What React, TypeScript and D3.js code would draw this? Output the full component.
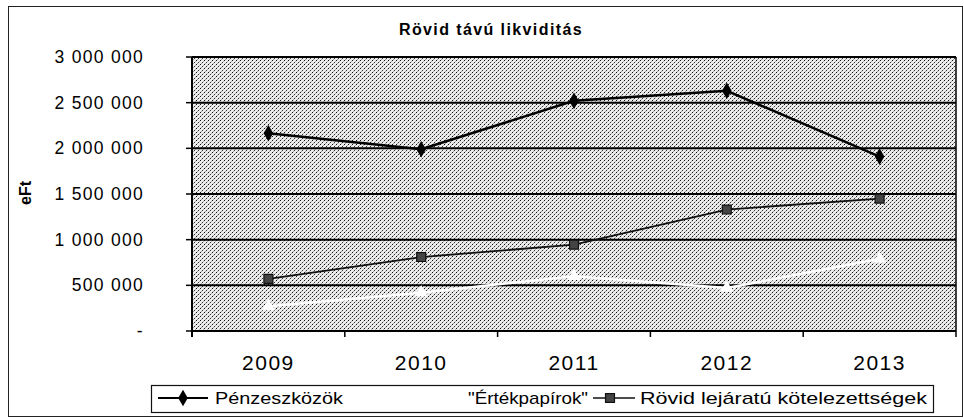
import React from 'react';
import * as d3 from 'd3';

const years = ['2009', '2010', '2011', '2012', '2013'];
const penzeszkozok = [2165000, 1990000, 2520000, 2630000, 1910000];
const ertekpapirok = [270000, 420000, 600000, 470000, 790000];
const rovidKotelezettseg = [570000, 810000, 945000, 1330000, 1450000];
const yTicks = [0, 500000, 1000000, 1500000, 2000000, 2500000, 3000000];

const W = 964;
const H = 418;
const plot = { left: 192, right: 956, top: 57, bottom: 331 };
const font = '"Liberation Sans", Arial, sans-serif';

const fmt = (v: number) => (v === 0 ? '-' : d3.format(',')(v).replace(/,/g, ' '));

export default function App() {
  const x = d3.scaleBand().domain(years).range([plot.left, plot.right]).padding(0);
  const y = d3.scaleLinear().domain([0, 3000000]).range([plot.bottom, plot.top]);
  const cx = (yr: string) => (x(yr) ?? 0) + x.bandwidth() / 2;

  const line = d3
    .line<number>()
    .x((_, i) => cx(years[i]))
    .y((d) => y(d));

  const diamond = d3.symbol().type(d3.symbolDiamond).size(80)()!;
  const square = d3.symbol().type(d3.symbolSquare).size(80)()!;
  const triangle = d3.symbol().type(d3.symbolTriangle).size(75)()!;

  const legendY = 398;

  return (
    <svg width={W} height={H} style={{ position: 'absolute', left: 0, top: 0, background: '#fff' }}>
      <defs>
        <pattern id="dots" width="4" height="4" patternUnits="userSpaceOnUse">
          <rect width="4" height="4" fill="#ececec" />
          <rect x="0" y="0" width="1" height="1" fill="#111" />
          <rect x="2" y="2" width="1" height="1" fill="#333" />
          <rect x="1" y="3" width="1" height="1" fill="#a0a0a0" />
          <rect x="3" y="1" width="1" height="1" fill="#b0b0b0" />
        </pattern>
      </defs>

      {/* outer frame */}
      <rect x={8.5} y={6.5} width={954} height={410} fill="none" stroke="#222" strokeWidth={1} />

      {/* title */}
      <text x={491} y={35} textAnchor="middle" fontFamily={font} fontWeight="bold" fontSize={16} letterSpacing={1.4}>
        Rövid távú likviditás
      </text>

      {/* plot area */}
      <rect
        x={plot.left}
        y={plot.top}
        width={plot.right - plot.left}
        height={plot.bottom - plot.top}
        fill="url(#dots)"
      />

      {/* grid lines */}
      {yTicks.map((t) => (
        <line key={t} x1={plot.left} x2={plot.right} y1={y(t)} y2={y(t)} stroke="#000" strokeWidth={2} />
      ))}
      <line x1={plot.right} x2={plot.right} y1={plot.top} y2={plot.bottom + 6} stroke="#000" strokeWidth={1.5} />
      <line x1={plot.left} x2={plot.left} y1={plot.top} y2={plot.bottom + 6} stroke="#000" strokeWidth={2} />

      {/* y ticks and labels */}
      {yTicks.map((t) => (
        <g key={'yl' + t}>
          <line x1={plot.left - 6} x2={plot.left} y1={y(t)} y2={y(t)} stroke="#000" strokeWidth={1.5} />
          <text x={144} y={y(t) + 6} textAnchor="end" fontFamily={font} fontSize={17.5} letterSpacing={1.3}>
            {fmt(t)}
          </text>
        </g>
      ))}

      {/* x ticks and labels */}
      {years.map((yr, i) => (
        <g key={yr}>
          {i > 0 && (
            <line x1={x(yr)} x2={x(yr)} y1={plot.bottom} y2={plot.bottom + 6} stroke="#000" strokeWidth={1.5} />
          )}
          <text x={cx(yr)} y={370} textAnchor="middle" fontFamily={font} fontSize={21} letterSpacing={1.5}>
            {yr}
          </text>
        </g>
      ))}

      {/* y axis title */}
      <text
        transform="translate(31,193) rotate(-90)"
        textAnchor="middle"
        fontFamily={font}
        fontWeight="bold"
        fontSize={16}
      >
        eFt
      </text>

      {/* series: Értékpapírok (white) */}
      <path d={line(ertekpapirok) ?? ''} fill="none" stroke="#fff" strokeWidth={2.5} />
      {ertekpapirok.map((v, i) => (
        <path key={'t' + i} d={triangle} transform={`translate(${cx(years[i])},${y(v)})`} fill="#fff" />
      ))}

      {/* series: Rövid lejáratú kötelezettségek */}
      <path d={line(rovidKotelezettseg) ?? ''} fill="none" stroke="#111" strokeWidth={1.8} />
      {rovidKotelezettseg.map((v, i) => (
        <path
          key={'s' + i}
          d={square}
          transform={`translate(${cx(years[i])},${y(v)})`}
          fill="#444"
          stroke="#111"
          strokeWidth={1.2}
        />
      ))}

      {/* series: Pénzeszközök */}
      <path d={line(penzeszkozok) ?? ''} fill="none" stroke="#000" strokeWidth={2.5} />
      {penzeszkozok.map((v, i) => (
        <path key={'d' + i} d={diamond} transform={`translate(${cx(years[i])},${y(v)})`} fill="#000" />
      ))}

      {/* legend */}
      <rect x={151.5} y={385.5} width={782} height={27} fill="#fff" stroke="#111" strokeWidth={1.2} />
      <line x1={158} x2={208} y1={legendY} y2={legendY} stroke="#000" strokeWidth={2} />
      <path d={diamond} transform={`translate(183,${legendY})`} fill="#000" />
      <text x={215} y={legendY + 6} fontFamily={font} fontSize={17} textLength={128} lengthAdjust="spacingAndGlyphs">
        Pénzeszközök
      </text>
      <text x={468} y={legendY + 6} fontFamily={font} fontSize={17} textLength={120} lengthAdjust="spacingAndGlyphs">
        "Értékpapírok"
      </text>
      <line x1={593} x2={635} y1={legendY} y2={legendY} stroke="#111" strokeWidth={1.5} />
      <path d={square} transform={`translate(610,${legendY})`} fill="#444" stroke="#111" strokeWidth={1.2} />
      <text x={640} y={legendY + 6} fontFamily={font} fontSize={17} textLength={287} lengthAdjust="spacingAndGlyphs">
        Rövid lejáratú kötelezettségek
      </text>
    </svg>
  );
}
